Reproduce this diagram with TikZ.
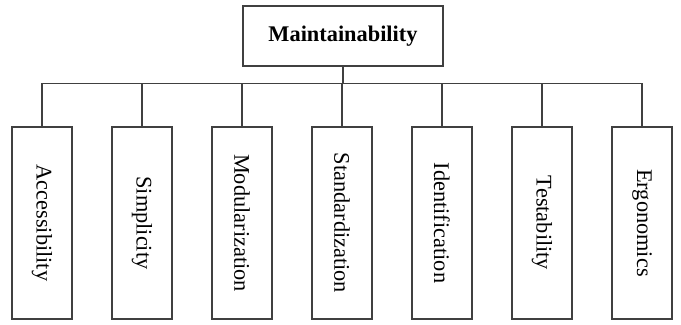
\documentclass[tikz,border=0pt]{standalone}
\usepackage{fontspec}
\setmainfont{Liberation Serif}
\begin{document}
\begin{tikzpicture}[line width=0.9pt, draw=black!75]
\useasboundingbox (0,0) rectangle (17.025,-8.1); % picture frame
\tikzset{part/.style={draw=black!75, fill=white, rotate=-90, minimum width=4.8cm, minimum height=1.5cm, inner sep=0pt, font=\fontsize{15.9}{19}\selectfont}}
\node[draw=black!75, minimum width=5cm, minimum height=1.5cm, font=\fontsize{15.9}{19}\selectfont\bfseries] (main) at (8.575,-0.9) {Maintainability}; % top box
\coordinate (bus) at (8.575,-2.09); % branch point
\draw[black!75] (main.south) -- (bus); % stem
\foreach \name [count=\i from 0] in {Accessibility,Simplicity,Modularization,Standardization,Identification,Testability,Ergonomics}
{
  \node[part] (p\i) at (1.05+2.5*\i,-5.575) {\name}; % part box
  \draw[black!75] (bus) -| (p\i.west); % branch to part (west is the top once rotated)
}
\end{tikzpicture}
\end{document}
